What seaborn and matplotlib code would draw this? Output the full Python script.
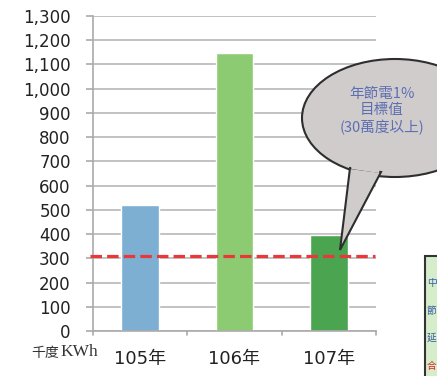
import matplotlib
matplotlib.use("Agg")
import matplotlib.pyplot as plt
import seaborn as sns
import pandas as pd
from matplotlib.patches import Ellipse, Polygon, Rectangle

years = ["105年", "106年", "107年"]
values = [518, 1148, 398]
target = 310
bar_colors = ["#7DAFD2", "#8CCB72", "#4BA550"]
yticks = list(range(0, 1301, 100))
bubble_text = "年節電1%\n目標值\n(30萬度以上)"
unit_cjk = "千度"
unit_lat = "KWh"
side_chars = ["中", "節", "延", "合"]
side_colors = ["#3B5BA5", "#3B5BA5", "#3B5BA5", "#E02020"]

sns.set_theme(style="white")
plt.rcParams['font.family'] = ['DejaVu Sans', 'Noto Sans CJK TC']

W, H = 437, 376
def fx(x): return x / W
def fy(y): return 1 - y / H

fig = plt.figure(figsize=(4.37, 3.76), dpi=100)
ax = fig.add_axes([fx(93), fy(331), (376 - 93) / W, (331 - 16) / H])

df = pd.DataFrame({"year": years, "value": values})
sns.barplot(data=df, x="year", y="value", hue="year", palette=bar_colors,
            width=0.4, legend=False, ax=ax, saturation=1)

ax.set_ylim(0, 1300)
ax.set_xlim(-0.5, 2.5)
ax.set_yticks(yticks)
ax.set_yticklabels([f"{v:,}" for v in yticks], fontsize=12, color="#222222")
ax.yaxis.grid(True, color="#BDBDBD", linewidth=1.3)
ax.set_axisbelow(True)
ax.set_xlabel("")
ax.set_ylabel("")
ax.set_xticks([0, 1, 2])
ax.set_xticklabels(years, fontsize=13, color="#222222")
ax.tick_params(axis="x", length=0, pad=14)
ax.tick_params(axis="y", length=5, width=1.2, color="#AAAAAA", left=True, pad=11)
for b in [-0.5, 0.5, 1.5, 2.5]:
    ax.plot([b, b], [0, -16], color="#AAAAAA", lw=1.2, clip_on=False)
for s in ["top", "right"]:
    ax.spines[s].set_visible(False)
for s in ["left", "bottom"]:
    ax.spines[s].set_color("#AAAAAA")
    ax.spines[s].set_linewidth(1.2)

ax.axhline(target, xmin=-0.01, xmax=0.995, color="#E8383B", lw=2.3,
           dashes=(3.6, 1.6), clip_on=False, zorder=5)

fig.text(fx(31), fy(353), unit_cjk, fontsize=10, color="#333333",
         ha="left", va="center", family=['Noto Sans CJK TC'])
fig.text(fx(60), fy(352), unit_lat, fontsize=12.5, color="#333333",
         ha="left", va="center", family=['Liberation Serif'])

# speech bubble (figure pixel coordinates)
bub_fc = "#D0CCCC"
bub_ec = "#2E2E2E"
ell = Ellipse((fx(395), fy(118)), 186 / W, 118 / H, transform=fig.transFigure,
              facecolor=bub_fc, edgecolor=bub_ec, lw=1.5, zorder=10)
fig.add_artist(ell)
tail = Polygon([(fx(350), fy(168)), (fx(340), fy(250)), (fx(381), fy(172))],
               closed=True, transform=fig.transFigure,
               facecolor=bub_fc, edgecolor=bub_ec, lw=1.5, zorder=10,
               joinstyle="miter")
fig.add_artist(tail)
cover = Polygon([(fx(350), fy(160)), (fx(351.5), fy(169)), (fx(379), fy(173)), (fx(381), fy(163))],
                closed=True, transform=fig.transFigure,
                facecolor=bub_fc, edgecolor="none", zorder=11)
fig.add_artist(cover)
fig.text(fx(382), fy(111), bubble_text, fontsize=10.5, color="#5C6FB2",
         ha="center", va="center", linespacing=1.2, zorder=12,
         family=['Noto Sans CJK TC'])

# partial side box at bottom right
box = Rectangle((fx(425), fy(380)), 40 / W, 124 / H, transform=fig.transFigure,
                facecolor="#D5EDCB", edgecolor="#333333", lw=1.5, zorder=10)
fig.add_artist(box)
for ch, yy, c in zip(side_chars, [283, 311, 338, 366], side_colors):
    fig.text(fx(427), fy(yy), ch, fontsize=7, color=c, ha="left",
             va="center", zorder=12, family=['Noto Sans CJK TC'])

fig.savefig("out.png", dpi=100)
